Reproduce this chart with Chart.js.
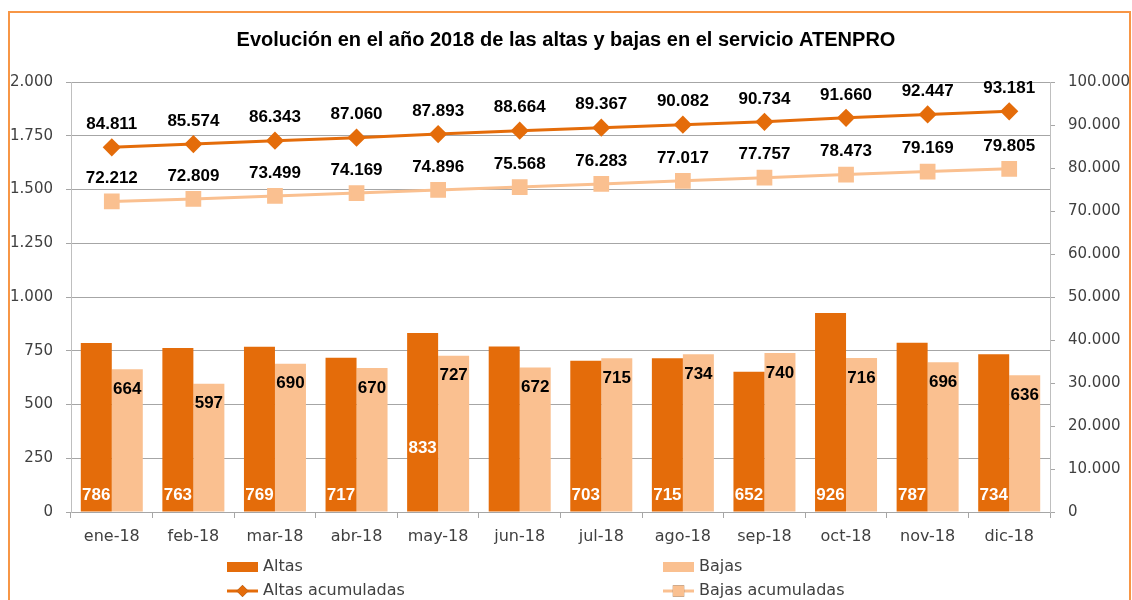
<!DOCTYPE html>
<html>
<head>
<meta charset="utf-8">
<script src="https://cdn.jsdelivr.net/npm/chart.js@4.4.0/dist/chart.umd.min.js"></script>
<style>
  html, body { margin: 0; padding: 0; background: #fff; }
  #wrap { position: relative; width: 1132px; height: 600px; overflow: hidden; }
  #marco { position: absolute; left: 8px; top: 11px; width: 1123px; height: 620px; border: 2px solid #F79646; box-sizing: border-box; }
  #grafico { position: absolute; left: 0; top: 0; }
</style>
</head>
<body>
<div id="wrap">
  <div id="marco"></div>
  <canvas id="grafico" width="1132" height="600"></canvas>
</div>
<script>
const meses = ['ene-18', 'feb-18', 'mar-18', 'abr-18', 'may-18', 'jun-18', 'jul-18', 'ago-18', 'sep-18', 'oct-18', 'nov-18', 'dic-18'];
const altas = [786, 763, 769, 717, 833, 770, 703, 715, 652, 926, 787, 734];
const bajas = [664, 597, 690, 670, 727, 672, 715, 734, 740, 716, 696, 636];
const altasAcumuladas = [84811, 85574, 86343, 87060, 87893, 88664, 89367, 90082, 90734, 91660, 92447, 93181];
const bajasAcumuladas = [72212, 72809, 73499, 74169, 74896, 75568, 76283, 77017, 77757, 78473, 79169, 79805];

const oscuro = '#E46C0A';
const claro = '#FAC090';
const gris = '#A6A6A6';
const texto = '#404040';

function miles(n) {
    return String(n).replace(/\B(?=(\d{3})+(?!\d))/g, '.');
}

// etiquetas de datos como en el Excel
const etiquetas = {
    id: 'etiquetas',
    afterDatasetsDraw(chart) {
        const ctx = chart.ctx;
        const base = chart.scales.y.getPixelForValue(0);
        ctx.save();
        ctx.font = 'bold 17px "Liberation Sans"';
        ctx.textAlign = 'center';
        ctx.textBaseline = 'middle';
        chart.data.datasets.forEach((ds, i) => {
            chart.getDatasetMeta(i).data.forEach((el, j) => {
                const v = ds.data[j];
                if (i === 0) {
                    if (j === 5) return; // sin etiqueta en el original
                    ctx.fillStyle = '#fff';
                    ctx.fillText(miles(v), el.x, j === 4 ? base - 64 : base - 17);
                } else if (i === 1) {
                    ctx.fillStyle = '#000';
                    ctx.fillText(miles(v), el.x, el.y + 20);
                } else {
                    ctx.fillStyle = '#000';
                    ctx.fillText(miles(v), el.x, el.y - 23);
                }
            });
        });
        ctx.restore();
    }
};

// leyenda en dos columnas abajo
const leyenda = {
    id: 'leyenda',
    afterDraw(chart) {
        const ctx = chart.ctx;
        const cols = [227, 663];
        const filas = [567, 591];
        ctx.save();
        ctx.font = '16px "DejaVu Sans"';
        ctx.textBaseline = 'middle';
        chart.data.datasets.forEach((ds, i) => {
            const x = cols[i % 2];
            const y = filas[Math.floor(i / 2)];
            if (ds.type === 'line') {
                ctx.strokeStyle = ds.borderColor;
                ctx.lineWidth = 3;
                ctx.beginPath();
                ctx.moveTo(x, y);
                ctx.lineTo(x + 31, y);
                ctx.stroke();
                Chart.helpers.drawPoint(ctx, {
                    pointStyle: ds.pointStyle, radius: ds.pointRadius - 1, rotation: 0,
                    borderWidth: 0
                }, x + 15.5, y);
                ctx.fillStyle = ds.borderColor;
                ctx.fill();
            } else {
                ctx.fillStyle = ds.backgroundColor;
                ctx.fillRect(x, y - 5, 31, 10);
            }
            ctx.fillStyle = texto;
            ctx.fillText(ds.label, x + 36, y);
        });
        ctx.restore();
    }
};

new Chart(document.getElementById('grafico'), {
    type: 'bar',
    data: {
        labels: meses,
        datasets: [{
            label: 'Altas',
            data: altas,
            backgroundColor: oscuro,
            yAxisID: 'y',
            order: 2,
            categoryPercentage: 0.76,
            barPercentage: 1
        }, {
            label: 'Bajas',
            data: bajas,
            backgroundColor: claro,
            yAxisID: 'y',
            order: 2,
            categoryPercentage: 0.76,
            barPercentage: 1
        }, {
            type: 'line',
            label: 'Altas acumuladas',
            data: altasAcumuladas,
            borderColor: oscuro,
            backgroundColor: oscuro,
            borderWidth: 3,
            pointStyle: 'rectRot',
            pointRadius: 7,
            yAxisID: 'y1',
            order: 1
        }, {
            type: 'line',
            label: 'Bajas acumuladas',
            data: bajasAcumuladas,
            borderColor: claro,
            backgroundColor: claro,
            borderWidth: 3,
            pointStyle: 'rect',
            pointRadius: 9,
            yAxisID: 'y1',
            order: 1
        }]
    },
    options: {
        responsive: false,
        animation: false,
        layout: { padding: { left: 0, right: 0, top: 0, bottom: 48 } },
        plugins: {
            legend: { display: false },
            tooltip: { enabled: false },
            title: {
                display: true,
                text: 'Evolución en el año 2018 de las altas y bajas en el servicio ATENPRO',
                color: '#000',
                font: { family: '"Liberation Sans"', size: 20, weight: 'bold' },
                padding: { top: 28, bottom: 30 }
            }
        },
        scales: {
            x: {
                grid: { offset: true, drawOnChartArea: false, tickLength: 6, color: gris },
                border: { color: gris },
                ticks: { color: texto, padding: 9, font: { family: '"DejaVu Sans"', size: 16 } },
                afterFit: (s) => { s.height = 40; }
            },
            y: {
                position: 'left',
                min: 0,
                max: 2000,
                ticks: { stepSize: 250, color: texto, padding: 13, font: { family: '"DejaVu Sans"', size: 15 }, callback: (v) => miles(v) },
                grid: { color: gris, tickLength: 5 },
                border: { color: '#BFBFBF' },
                afterFit: (s) => { s.width = 71; }
            },
            y1: {
                position: 'right',
                min: 0,
                max: 100000,
                ticks: { stepSize: 10000, color: texto, padding: 13, font: { family: '"DejaVu Sans"', size: 15 }, callback: (v) => miles(v) },
                grid: { drawOnChartArea: false, color: gris, tickLength: 5 },
                border: { color: '#BFBFBF' },
                afterFit: (s) => { s.width = 82; }
            }
        }
    },
    plugins: [etiquetas, leyenda]
});
</script>
</body>
</html>
